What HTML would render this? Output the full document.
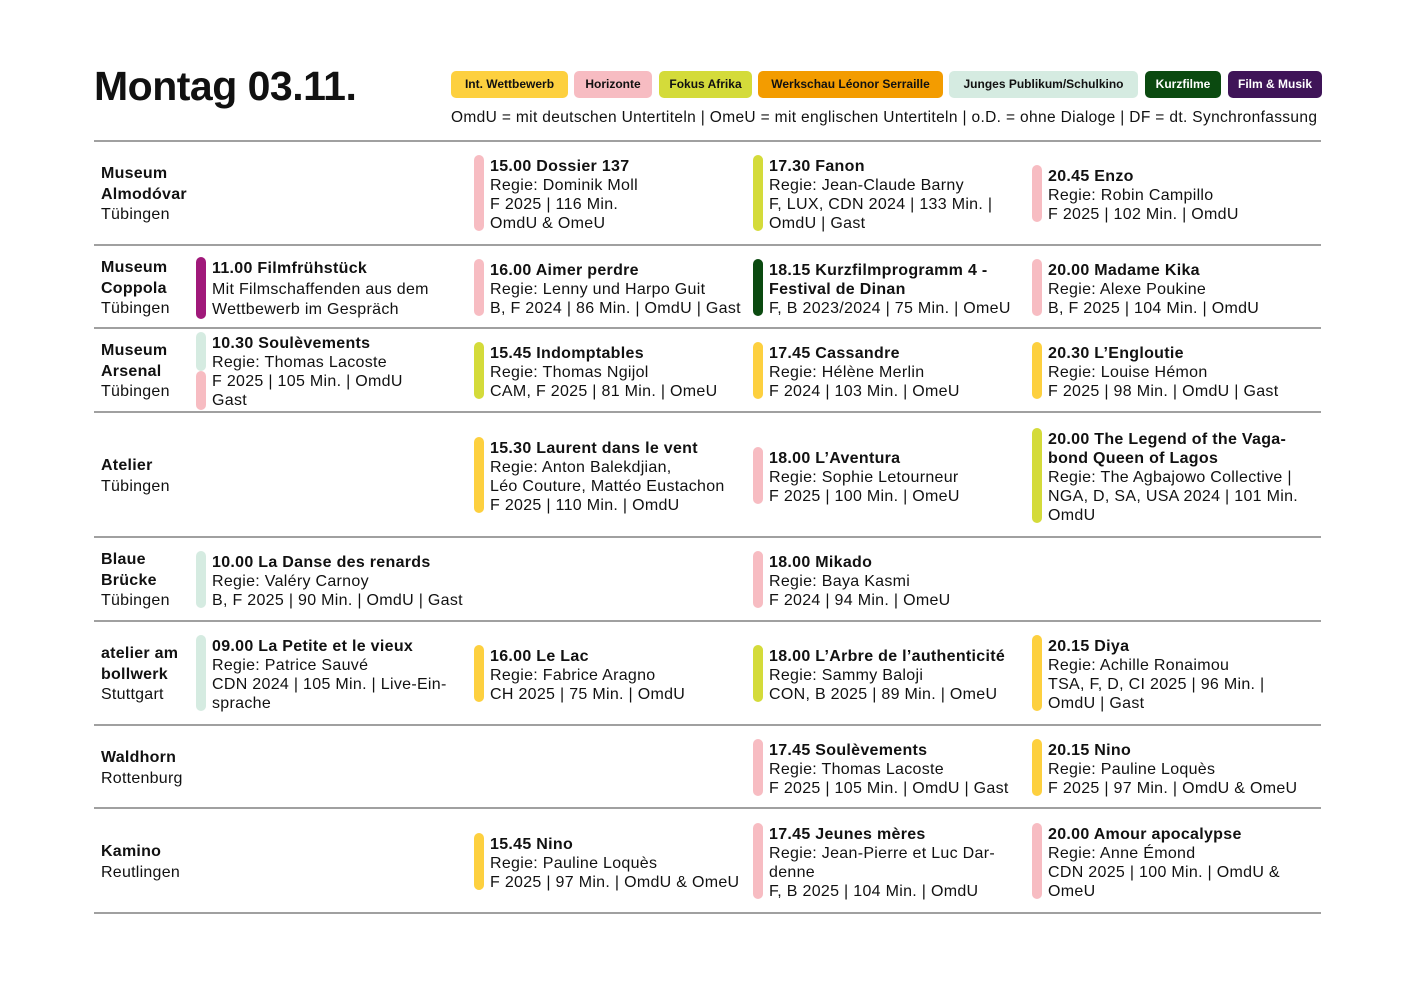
<!DOCTYPE html>
<html><head><meta charset="utf-8"><style>
body{margin:0;width:1417px;height:1004px;background:#fff;position:relative;font-family:"Liberation Sans",sans-serif;color:#111;overflow:hidden}
.a{position:absolute}
h1{position:absolute;left:94px;top:63px;margin:0;font-size:41px;font-weight:bold;letter-spacing:-0.5px}
.p{position:absolute;top:71px;height:27px;border-radius:5px;font-size:12px;font-weight:bold;line-height:27px;text-align:center}
.hr{position:absolute;left:94px;width:1227px;height:1.5px;background:#a0a0a0}
.v{position:absolute;left:101px;font-size:16px;line-height:20.5px;letter-spacing:0.25px}
.v b{display:block}
.e{position:absolute;padding-left:16px;padding-top:2px;font-size:16px;line-height:19px;white-space:nowrap;letter-spacing:0.3px}
.e:before{content:"";position:absolute;left:0;top:0;bottom:2px;width:10px;border-radius:5px;background:var(--c)}
.e b{display:block}
.Y{--c:#fdd03f}.P{--c:#f7bcc2}.G{--c:#d4db3a}.M{--c:#d5ebe1}.D{--c:#0b4a10}.F{--c:#a0197a}
</style></head><body>
<h1>Montag 03.11.</h1>
<div class="p" style="left:451px;width:117px;background:#fdd03f">Int. Wettbewerb</div>
<div class="p" style="left:574px;width:78px;background:#f7bcc2">Horizonte</div>
<div class="p" style="left:659px;width:93px;background:#d4db3a">Fokus Afrika</div>
<div class="p" style="left:758px;width:185px;background:#f39c00">Werkschau Léonor Serraille</div>
<div class="p" style="left:949px;width:189px;background:#d5ebe1">Junges Publikum/Schulkino</div>
<div class="p" style="left:1145px;width:76px;background:#0b4a10;color:#fff">Kurzfilme</div>
<div class="p" style="left:1228px;width:94px;background:#3f1458;color:#fff">Film &amp; Musik</div>
<div class="a" style="left:451px;top:109px;font-size:15.5px;white-space:nowrap;letter-spacing:0.35px">OmdU = mit deutschen Untertiteln | OmeU = mit englischen Untertiteln | o.D. = ohne Dialoge | DF = dt. Synchronfassung</div>

<div class="hr" style="top:140px"></div><div class="hr" style="top:244px"></div><div class="hr" style="top:327px"></div><div class="hr" style="top:411px"></div><div class="hr" style="top:536px"></div><div class="hr" style="top:620px"></div><div class="hr" style="top:724px"></div><div class="hr" style="top:807px"></div><div class="hr" style="top:912px"></div>

<div class="v" style="top:164px"><b>Museum</b><b>Almodóvar</b>Tübingen</div>
<div class="v" style="top:258px"><b>Museum</b><b>Coppola</b>Tübingen</div>
<div class="v" style="top:341px"><b>Museum</b><b>Arsenal</b>Tübingen</div>
<div class="v" style="top:456px"><b>Atelier</b>Tübingen</div>
<div class="v" style="top:550px"><b>Blaue</b><b>Brücke</b>Tübingen</div>
<div class="v" style="top:644px"><b>atelier am</b><b>bollwerk</b>Stuttgart</div>
<div class="v" style="top:748px"><b>Waldhorn</b>Rottenburg</div>
<div class="v" style="top:842px"><b>Kamino</b>Reutlingen</div>

<div class="e P" style="left:474px;top:155px"><b>15.00 Dossier 137</b>Regie: Dominik Moll<br>F 2025 | 116 Min.<br>OmdU &amp; OmeU</div>
<div class="e G" style="left:753px;top:155px"><b>17.30 Fanon</b>Regie: Jean-Claude Barny<br>F, LUX, CDN 2024 | 133 Min. |<br>OmdU | Gast</div>
<div class="e P" style="left:1032px;top:165px"><b>20.45 Enzo</b>Regie: Robin Campillo<br>F 2025 | 102 Min. | OmdU</div>

<div class="e F" style="left:196px;top:257px;line-height:20.5px"><b>11.00 Filmfrühstück</b>Mit Filmschaffenden aus dem<br>Wettbewerb im Gespräch</div>
<div class="e P" style="left:474px;top:259px"><b>16.00 Aimer perdre</b>Regie: Lenny und Harpo Guit<br>B, F 2024 | 86 Min. | OmdU | Gast</div>
<div class="e D" style="left:753px;top:259px"><b>18.15 Kurzfilmprogramm 4 -<br>Festival de Dinan</b>F, B 2023/2024 | 75 Min. | OmeU</div>
<div class="e P" style="left:1032px;top:259px"><b>20.00 Madame Kika</b>Regie: Alexe Poukine<br>B, F 2025 | 104 Min. | OmdU</div>

<div class="e" style="left:196px;top:332px"><span class="a" style="left:0;top:0;width:10px;height:39px;border-radius:5px;background:#d5ebe1"></span><span class="a" style="left:0;top:39px;width:10px;height:39px;border-radius:5px;background:#f7bcc2"></span><b>10.30 Soulèvements</b>Regie: Thomas Lacoste<br>F 2025 | 105 Min. | OmdU<br>Gast</div>
<div class="e G" style="left:474px;top:342px"><b>15.45 Indomptables</b>Regie: Thomas Ngijol<br>CAM, F 2025 | 81 Min. | OmeU</div>
<div class="e Y" style="left:753px;top:342px"><b>17.45 Cassandre</b>Regie: Hélène Merlin<br>F 2024 | 103 Min. | OmeU</div>
<div class="e Y" style="left:1032px;top:342px"><b>20.30 L’Engloutie</b>Regie: Louise Hémon<br>F 2025 | 98 Min. | OmdU | Gast</div>

<div class="e Y" style="left:474px;top:437px"><b>15.30 Laurent dans le vent</b>Regie: Anton Balekdjian,<br>Léo Couture, Mattéo Eustachon<br>F 2025 | 110 Min. | OmdU</div>
<div class="e P" style="left:753px;top:447px"><b>18.00 L’Aventura</b>Regie: Sophie Letourneur<br>F 2025 | 100 Min. | OmeU</div>
<div class="e G" style="left:1032px;top:428px"><b>20.00 The Legend of the Vaga-<br>bond Queen of Lagos</b>Regie: The Agbajowo Collective |<br>NGA, D, SA, USA 2024 | 101 Min.<br>OmdU</div>

<div class="e M" style="left:196px;top:551px"><b>10.00 La Danse des renards</b>Regie: Valéry Carnoy<br>B, F 2025 | 90 Min. | OmdU | Gast</div>
<div class="e P" style="left:753px;top:551px"><b>18.00 Mikado</b>Regie: Baya Kasmi<br>F 2024 | 94 Min. | OmeU</div>

<div class="e M" style="left:196px;top:635px"><b>09.00 La Petite et le vieux</b>Regie: Patrice Sauvé<br>CDN 2024 | 105 Min. | Live-Ein-<br>sprache</div>
<div class="e Y" style="left:474px;top:645px"><b>16.00 Le Lac</b>Regie: Fabrice Aragno<br>CH 2025 | 75 Min. | OmdU</div>
<div class="e G" style="left:753px;top:645px"><b>18.00 L’Arbre de l’authenticité</b>Regie: Sammy Baloji<br>CON, B 2025 | 89 Min. | OmeU</div>
<div class="e Y" style="left:1032px;top:635px"><b>20.15 Diya</b>Regie: Achille Ronaimou<br>TSA, F, D, CI 2025 | 96 Min. |<br>OmdU | Gast</div>

<div class="e P" style="left:753px;top:739px"><b>17.45 Soulèvements</b>Regie: Thomas Lacoste<br>F 2025 | 105 Min. | OmdU | Gast</div>
<div class="e Y" style="left:1032px;top:739px"><b>20.15 Nino</b>Regie: Pauline Loquès<br>F 2025 | 97 Min. | OmdU &amp; OmeU</div>

<div class="e Y" style="left:474px;top:833px"><b>15.45 Nino</b>Regie: Pauline Loquès<br>F 2025 | 97 Min. | OmdU &amp; OmeU</div>
<div class="e P" style="left:753px;top:823px"><b>17.45 Jeunes mères</b>Regie: Jean-Pierre et Luc Dar-<br>denne<br>F, B 2025 | 104 Min. | OmdU</div>
<div class="e P" style="left:1032px;top:823px"><b>20.00 Amour apocalypse</b>Regie: Anne Émond<br>CDN 2025 | 100 Min. | OmdU &amp;<br>OmeU</div>
</body></html>
